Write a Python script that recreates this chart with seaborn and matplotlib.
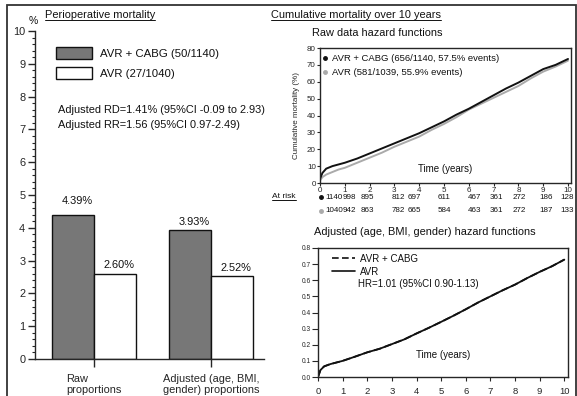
import numpy as np
import pandas as pd
import matplotlib
matplotlib.use("Agg")
import matplotlib.pyplot as plt
from matplotlib.lines import Line2D
from matplotlib.patches import Rectangle
import seaborn as sns

# ---------------- data ----------------
groups = ["Raw\nproportions", "Adjusted (age, BMI,\ngender) proportions"]
arms = ["AVR + CABG (50/1140)", "AVR (27/1040)"]
avr_cabg_pct = [4.39, 3.93]
avr_pct = [2.60, 2.52]

raw_t = [0, 0.1, 0.25, 0.5, 0.75, 1, 1.5, 2, 2.5, 3, 3.5, 4, 4.5, 5, 5.5,
         6, 6.5, 7, 7.5, 8, 8.5, 9, 9.5, 10]
raw_avr_cabg = [2.5, 6, 8.5, 10, 11, 12, 14.5, 17.5, 20.5, 23.5, 26.5, 29.5,
                33, 36.5, 40.5, 44, 48, 52, 56, 59.5, 63.5, 67.5, 70, 73.5]
raw_avr = [1.5, 3.5, 5, 6.5, 8, 9, 12, 15, 18, 21.5, 24.5, 27.5,
           31.5, 35, 39, 43.5, 47, 50.5, 54, 57.5, 62, 66, 69, 72.5]

risk_years = list(range(11))
risk_avr_cabg = [1140, 998, 895, 812, 697, 611, 467, 361, 272, 186, 128]
risk_avr = [1040, 942, 863, 782, 665, 584, 463, 361, 272, 187, 133]

adj_t = [0, 0.1, 0.25, 0.5, 1, 1.5, 2, 2.5, 3, 3.5, 4, 4.5, 5, 5.5, 6,
         6.5, 7, 7.5, 8, 8.5, 9, 9.5, 10]
adj_avr_cabg = [0.0, 0.043, 0.066, 0.08, 0.10, 0.126, 0.153, 0.175, 0.204,
                0.233, 0.27, 0.305, 0.342, 0.38, 0.42, 0.462, 0.50, 0.538,
                0.573, 0.614, 0.652, 0.687, 0.728]
adj_avr = [0.0, 0.043, 0.066, 0.08, 0.10, 0.126, 0.153, 0.175, 0.204,
           0.233, 0.27, 0.305, 0.342, 0.38, 0.42, 0.462, 0.50, 0.538,
           0.573, 0.614, 0.652, 0.687, 0.728]

# ---------------- style ----------------
sns.set_style("ticks")
plt.rcParams["font.family"] = ["Liberation Sans", "DejaVu Sans"]
plt.rcParams["axes.linewidth"] = 1.0
plt.rcParams["xtick.major.width"] = 1.0
plt.rcParams["ytick.major.width"] = 1.0
plt.rcParams["text.color"] = "#111111"

W, H = 577, 396
fig = plt.figure(figsize=(W / 100, H / 100), dpi=100)


def box(l, t, r, b):
    return [l / W, 1 - b / H, (r - l) / W, (b - t) / H]


def ftext(x, y, s, **kw):
    return fig.text(x / W, 1 - y / H, s, **kw)


GRAY_BAR = "#777777"
FS = 7.9

# ---------------- perioperative mortality bars ----------------
ax1 = fig.add_axes(box(35, 31, 264, 359))
bars = pd.DataFrame({
    "group": groups * 2,
    "arm": [arms[0]] * 2 + [arms[1]] * 2,
    "pct": avr_cabg_pct + avr_pct,
})
sns.barplot(data=bars, x="group", y="pct", hue="arm", order=groups,
            hue_order=arms, palette=[GRAY_BAR, "white"], width=0.718,
            gap=0, edgecolor="#111111", linewidth=1.0, saturation=1,
            ax=ax1)
ax1.set_xlim(-0.504, 1.453)
ax1.set_ylim(0, 10)
ax1.set_xlabel("")
ax1.set_ylabel("")
ax1.set_yticks(range(11))
ax1.set_yticks(np.arange(0, 10.01, 0.2), minor=True)
ax1.tick_params(axis="y", which="major", length=5, labelsize=FS, pad=2)
ax1.tick_params(axis="y", which="minor", length=2.5, width=0.8)
ax1.tick_params(axis="x", length=6, labelsize=FS, pad=5)
for lab in ax1.get_xticklabels():
    lab.set_multialignment("left")
    lab.set_linespacing(1.05)
sns.despine(ax=ax1)

# value labels above each bar (lift in pixels)
label_lift = [9, 3, 4, 3]
for j, cont in enumerate(ax1.containers):
    for i, bar in enumerate(cont):
        val = bar.get_height()
        ax1.annotate(f"{val:.2f}%",
                     (bar.get_x() + bar.get_width() / 2, val),
                     xytext=(4, label_lift[j * 2 + i]),
                     textcoords="offset pixels", ha="center", va="bottom",
                     fontsize=FS)

h, l = ax1.get_legend_handles_labels()
ax1.legend(h, l, loc="upper left", bbox_to_anchor=(0.0917, 0.951),
           frameon=False, fontsize=8.2, handlelength=3.15, handleheight=1.3,
           handletextpad=0.72, labelspacing=0.62, borderpad=0,
           borderaxespad=0)

ftext(58, 110, "Adjusted RD=1.41% (95%CI -0.09 to 2.93)", fontsize=FS,
      va="center")
ftext(58, 125, "Adjusted RR=1.56 (95%CI 0.97-2.49)", fontsize=FS,
      va="center")
ftext(33, 21, "%", fontsize=7.5, ha="center", va="center")

t_peri = ftext(45, 15, "Perioperative mortality", fontsize=FS, va="center")
t_cum = ftext(271, 15, "Cumulative mortality over 10 years", fontsize=FS,
              va="center")

# ---------------- raw data hazard functions ----------------
ax2 = fig.add_axes(box(320, 48, 571, 183))
raw = pd.DataFrame({
    "t": raw_t * 2,
    "mort": raw_avr + raw_avr_cabg,
    "arm": ["AVR"] * len(raw_t) + ["AVR + CABG"] * len(raw_t),
})
sns.lineplot(data=raw, x="t", y="mort", hue="arm",
             palette={"AVR": "#aaaaaa", "AVR + CABG": "#111111"},
             hue_order=["AVR", "AVR + CABG"], estimator=None, sort=False,
             linewidth=1.4, legend=False, ax=ax2)
ax2.set_xlim(0, 10.12)
ax2.set_ylim(0, 80)
ax2.set_xticks(range(11))
ax2.set_yticks(range(0, 81, 10))
ax2.set_xlabel("")
ax2.set_ylabel("Cumulative mortality (%)", fontsize=5.8, labelpad=5)
ax2.tick_params(axis="both", length=2, pad=1, labelsize=5.8, width=0.8)
ax2.text(0.5, 0.1, "Time (years)", transform=ax2.transAxes, ha="center",
         va="center", fontsize=7)
leg2 = [Line2D([], [], marker="o", ls="", color="#111111", ms=2.5),
        Line2D([], [], marker="o", ls="", color="#aaaaaa", ms=2.5)]
ax2.legend(leg2, ["AVR + CABG (656/1140, 57.5% events)",
                  "AVR (581/1039, 55.9% events)"],
           loc="upper left", bbox_to_anchor=(0.01, 0.955), frameon=False,
           fontsize=6.8, handlelength=0.6, handletextpad=0.4,
           labelspacing=0.55, borderpad=0, borderaxespad=0)
ftext(377, 33, "Raw data hazard functions", fontsize=FS, ha="center",
      va="center")

# at-risk table, numbers nudged (pixels) from their year ticks
t_risk = ftext(272, 197, "At risk", fontsize=6, va="center")
risk_nudge = [14.0, 4.7, -2.1, 4.1, -5.2, 0, 5.7, 2.9, 0.6, 3.3, -0.5]
risk_tr = ax2.get_xaxis_transform()
for vals, col, yy in [(risk_avr_cabg, "#111111", -0.104),
                      (risk_avr, "#aaaaaa", -0.207)]:
    ax2.plot([0.06], [yy], marker="o", ms=2.5, color=col, ls="",
             transform=risk_tr, clip_on=False)
    for yr, n, dx in zip(risk_years, vals, risk_nudge):
        ax2.annotate(str(n), (yr, yy), xycoords=risk_tr, xytext=(dx, 0),
                     textcoords="offset pixels", ha="center", va="center",
                     fontsize=5.8, annotation_clip=False)

# ---------------- adjusted hazard functions ----------------
ax3 = fig.add_axes(box(318, 248, 568, 377))
adj = pd.DataFrame({
    "t": adj_t * 2,
    "mort": adj_avr_cabg + adj_avr,
    "arm": ["AVR + CABG"] * len(adj_t) + ["AVR"] * len(adj_t),
})
sns.lineplot(data=adj, x="t", y="mort", hue="arm", style="arm",
             palette={"AVR + CABG": "#111111", "AVR": "#111111"},
             dashes={"AVR + CABG": (4, 2), "AVR": ""},
             hue_order=["AVR + CABG", "AVR"], estimator=None, sort=False,
             linewidth=1.3, legend=False, ax=ax3)
ax3.set_xlim(0, 10.15)
ax3.set_ylim(0, 0.8)
ax3.set_xticks(range(11))
ax3.set_yticks(np.round(np.arange(0, 0.81, 0.1), 1))
ax3.set_yticklabels([f"{v:.1f}" for v in np.arange(0, 0.81, 0.1)])
ax3.set_xlabel("")
ax3.set_ylabel("")
ax3.tick_params(axis="y", length=4, pad=1, labelsize=4.8, width=0.8)
ax3.tick_params(axis="x", length=3, pad=4, labelsize=6.8, width=0.8)
ax3.text(0.5, 0.17, "Time (years)", transform=ax3.transAxes, ha="center",
         va="center", fontsize=7)
leg3 = [Line2D([], [], ls=(0, (4, 2)), color="#111111", lw=1.2),
        Line2D([], [], ls="-", color="#111111", lw=1.2)]
ax3.legend(leg3, ["AVR + CABG", "AVR"], loc="upper left",
           bbox_to_anchor=(0.055, 0.955), frameon=False, fontsize=7,
           handlelength=2.4, handletextpad=0.5, labelspacing=0.3,
           borderpad=0, borderaxespad=0)
ftext(358, 284, "HR=1.01 (95%CI 0.90-1.13)", fontsize=7, va="center")
ftext(314, 232, "Adjusted (age, BMI, gender) hazard functions", fontsize=FS,
      va="center")

# ---------------- underlines and outer frame ----------------
fig.canvas.draw()
rend = fig.canvas.get_renderer()
for t_obj in [t_peri, t_cum, t_risk]:
    bb = t_obj.get_window_extent(rend)
    yy = bb.y0 + 0.5
    fig.add_artist(Line2D([bb.x0 / W, bb.x1 / W], [yy / H, yy / H],
                          transform=fig.transFigure, color="#111111",
                          lw=0.7))

fig.add_artist(Rectangle((7 / W, -0.05), (576 - 7) / W, 1.05 - 5 / H,
                         transform=fig.transFigure, fill=False,
                         edgecolor="#333333", lw=1.3))

fig.savefig("out.png", dpi=100)
